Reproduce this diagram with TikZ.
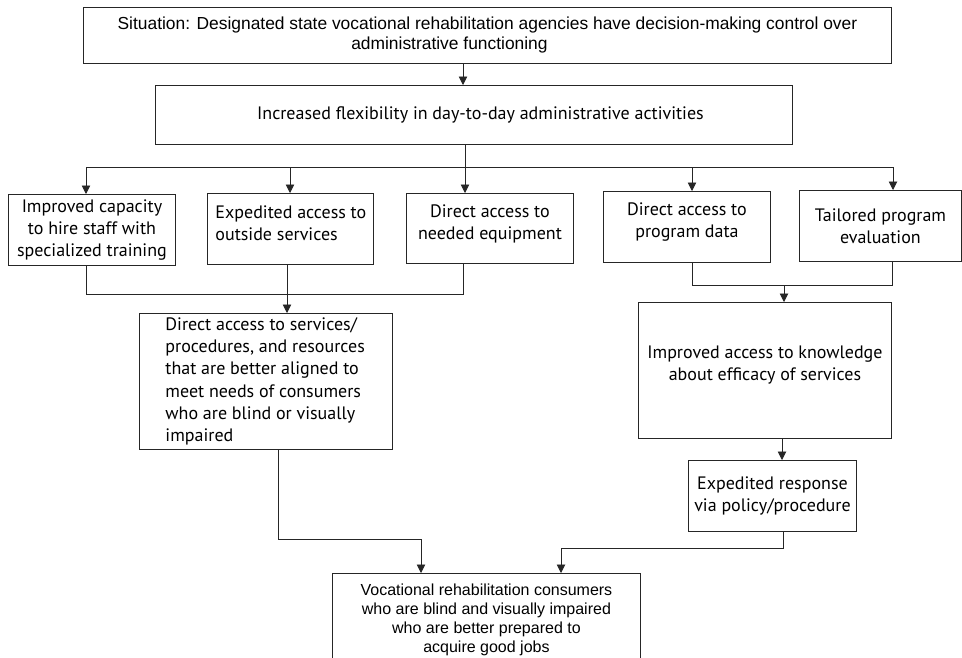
\documentclass[tikz,border=0pt]{standalone}
\usepackage{fontspec}
\setmainfont{Liberation Sans}
\newfontfamily\myr{PT Sans}
\usetikzlibrary{arrows.meta}
\newcommand\bt[4]{\parbox[c][#2pt][#3]{#1pt}{#4}}
\newcommand\myrs{\myr\fontsize{18}{22}\selectfont}
\begin{document}
\begin{tikzpicture}[x=1pt,y=-1pt,
  box/.style={draw=black!85, line width=0.9pt, inner sep=0pt, anchor=north west},
  conn/.style={draw=black!85, line width=0.9pt},
  arr/.style={conn, -{Triangle[length=8.5pt,width=8.5pt]}}]
\clip (0,0) rectangle (962,657);
\fill[white] (0,0) rectangle (962,657);
% boxes
\node[box] (T) at (83,7) {\bt{808}{56}{c}{\centering\fontsize{17.4}{20}\selectfont
  Situation: Designated state vocational rehabilitation agencies have decision-making control over\hspace*{14pt}\\
  administrative functioning\hspace*{76pt}\par}};
\node[box] (I) at (155,85) {\bt{637}{59}{c}{\centering\myrs
  Increased flexibility in day-to-day administrative activities\hspace*{-13pt}\par}};
\node[box] (B1) at (8,194) {\bt{167}{71}{c}{\centering\myrs
  Improved capacity\\to hire staff with\\specialized training\par}};
\node[box] (B2) at (207,193) {\bt{166}{71}{c}{\raggedright\leftskip=8pt\myrs
  Expedited access to\\outside services\par\vspace*{11pt}}};
\node[box] (B3) at (406,193) {\bt{167}{70}{c}{\centering\myrs
  Direct access to\\needed equipment\par\vspace*{10pt}}};
\node[box] (B4) at (603,191) {\bt{167}{71}{c}{\centering\myrs
  Direct access to\\program data\par\vspace*{9pt}}};
\node[box] (B5) at (799,190) {\bt{162}{71}{c}{\centering\myrs
  Tailored program\\evaluation\par}};
\node[box] (B6) at (139,313) {\bt{253}{136}{c}{\raggedright\leftskip=26pt\myr\fontsize{18}{22.2}\selectfont
  Direct access to services/\\procedures, and resources\\that are better aligned to\\meet needs of consumers\\who are blind or visually\\impaired\par}};
\node[box] (B8) at (638,302) {\bt{253}{136}{c}{\centering\myrs
  Improved access to knowledge\\about efficacy of services\par\vspace*{11pt}}};
\node[box] (B9) at (688,460) {\bt{168}{71}{c}{\centering\myrs
  Expedited response\\via policy/procedure\par}};
\node[box] (F) at (332,573) {\bt{308}{120}{t}{\centering\fontsize{16}{19}\selectfont\vspace*{10pt}
  Vocational rehabilitation consumers\\who are blind and visually impaired\\who are better prepared to\\acquire good jobs\par}};
% helper coordinates
\coordinate (bus) at (0,167);
\coordinate (busa) at (0,294);
\coordinate (busb) at (0,285);
\coordinate (busc) at (0,539);
\coordinate (busd) at (0,548);
\foreach \x in {86,278,287,290,421,463,465,561,692,782,783,784,892,893}
  {\coordinate (c\x) at (\x,0);}
% connectors
\draw[arr] (T.south -| c463) -- (I.north -| c463);
\draw[conn] (I.south -| c465) -- (c465 |- bus);
\draw[conn] (c86 |- bus) -- (c893 |- bus);
\draw[arr] (c86 |- bus) -- (B1.north -| c86);
\draw[arr] (c290 |- bus) -- (B2.north -| c290);
\draw[arr] (c465 |- bus) -- (B3.north -| c465);
\draw[arr] (c692 |- bus) -- (B4.north -| c692);
\draw[arr] (c893 |- bus) -- (B5.north -| c893);
\draw[conn] (B1.south -| c86) -- (c86 |- busa) -- (c463 |- busa) -- (B3.south -| c463);
\draw[conn] (B2.south -| c287) -- (c287 |- busa);
\draw[arr] (c287 |- busa) -- (B6.north -| c287);
\draw[conn] (B4.south -| c692) -- (c692 |- busb) -- (c892 |- busb) -- (B5.south -| c892);
\draw[arr] (c784 |- busb) -- (B8.north -| c784);
\draw[arr] (B8.south -| c782) -- (B9.north -| c782);
\draw[arr] (B6.south -| c278) -- (c278 |- busc) -- (c421 |- busc) -- (F.north -| c421);
\draw[arr] (B9.south -| c783) -- (c783 |- busd) -- (c561 |- busd) -- (F.north -| c561);
\end{tikzpicture}
\end{document}
